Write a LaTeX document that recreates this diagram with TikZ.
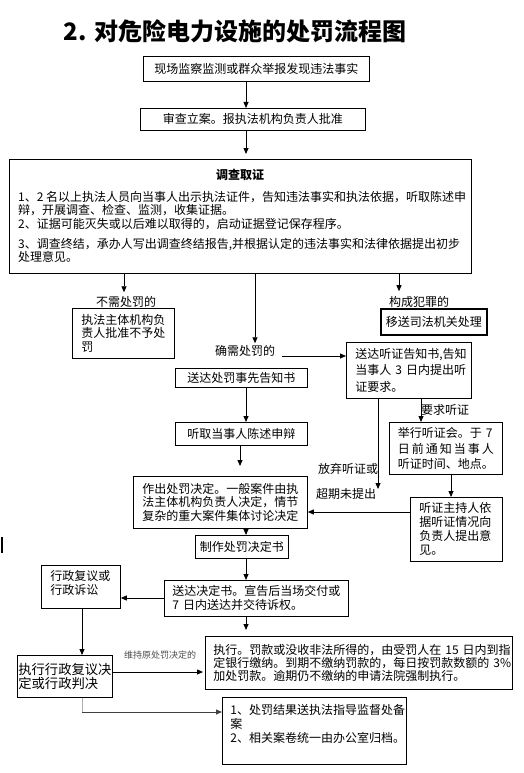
\documentclass[tikz,border=0pt]{standalone}
\usepackage{fontspec}
\newfontfamily\cjk{Noto Sans CJK SC}
\usetikzlibrary{arrows.meta}
\definecolor{lightline}{RGB}{160,175,190}
\begin{document}
\begin{tikzpicture}[x=1pt,y=-1pt,
  box/.style={draw, line width=0.8pt, inner sep=0pt, anchor=north west, font=\cjk\fontsize{12}{14}\selectfont},
  lbl/.style={inner sep=0pt, font=\cjk\fontsize{12}{14}\selectfont},
  arr/.style={line width=0.8pt, -{Triangle[length=6pt,width=5pt]}},
  ln/.style={line width=0.8pt}]
\fill[white] (0,0) rectangle (523,773);
\useasboundingbox (0,0) rectangle (523,773);
% helper coordinates
\coordinate (X246) at (246,0);
\coordinate (X240) at (240,0);
\coordinate (X124) at (124,0);
\coordinate (X255) at (255,0);
\coordinate (X399) at (399,0);
\coordinate (X421) at (421,0);
\coordinate (X378) at (378,0);
\coordinate (X451) at (451,0);
\coordinate (X82) at (82,0);
\coordinate (Y512) at (0,512);
\coordinate (Y598) at (0,598);
\coordinate (Y672) at (0,672);
% title
\node[inner sep=0pt, font=\cjk\bfseries\fontsize{24}{28}\selectfont] (title) at (235,31) {2. 对危险电力设施的处罚流程图};
% boxes
\node[box, minimum width=226, minimum height=25] (b1) at (143,56) {现场监察监测或群众举报发现违法事实};
\node[box, minimum width=225, minimum height=22] (b2) at (140,108) {审查立案。报执法机构负责人批准};
\node[box, minimum width=462, minimum height=114] (inv) at (9,159) {};
\node[lbl, font=\cjk\bfseries\fontsize{12}{14}\selectfont] (invH) at (240,175) {调查取证};
\node[lbl, anchor=north west, align=left, font=\cjk\fontsize{12}{13.5}\selectfont] (invT) at (18,191)
 {1、2~名以上执法人员向当事人出示执法证件，告知违法事实和执法依据，听取陈述申\\
  辩，开展调查、检查、监测，收集证据。\\
  2、证据可能灭失或以后难以取得的，启动证据登记保存程序。\\[6.5pt]
  3、调查终结，承办人写出调查终结报告,并根据认定的违法事实和法律依据提出初步\\
  处理意见。};
\node[lbl] (lblNo) at (126,302) {不需处罚的};
\node[box, minimum width=102, minimum height=50, align=left, text width=84, inner xsep=9, font=\cjk\fontsize{12}{13.5}\selectfont] (noPen) at (72,308) {执法主体机构负\\责人批准不予处\\罚};
\node[lbl] (lblCrime) at (419,302) {构成犯罪的};
\node[box, line width=1.7pt, minimum width=106, minimum height=26] (crime) at (380,308) {移送司法机关处理};
\node[lbl] (lblNeed) at (245,351) {确需处罚的};
\coordinate (needOut) at (282,356);
\node[box, minimum width=125, minimum height=56, align=left, text width=107, inner xsep=9, font=\cjk\fontsize{12}{16.5}\selectfont] (hearN) at (346,342) {送达听证告知书,告知\\\mbox{当事人~3~日内提出听}\\证要求。};
\node[box, minimum width=132, minimum height=19] (notice) at (175,368) {送达处罚事先告知书};
\node[box, minimum width=132, minimum height=23] (listen) at (175,422) {听取当事人陈述申辩};
\node[lbl] (lblReq) at (445,410) {要求听证};
\node[box, minimum width=113, minimum height=52, align=left, text width=96, inner xsep=8.5, font=\cjk\fontsize{12}{15.5}\selectfont] (hold) at (389,422) {\mbox{举行听证会。于~7}\\\makebox[96pt][s]{日\hfil 前\hfil 通\hfil 知\hfil 当\hfil 事\hfil 人}\\听证时间、地点。};
\node[lbl] (lblGive1) at (348,469) {放弃听证或};
\node[lbl] (lblGive2) at (346,494) {超期未提出};
\coordinate (giveEnd) at (378,489);
\node[box, minimum width=174, minimum height=52, align=left, text width=156, inner xsep=9, font=\cjk\fontsize{12}{13.5}\selectfont] (decide) at (133,476) {作出处罚决定。一般案件由执\\法主体机构负责人决定，情节\\复杂的重大案件集体讨论决定};
\node[box, minimum width=92, minimum height=64, align=left, text width=74, inner xsep=9, font=\cjk\fontsize{12}{14}\selectfont] (host) at (410,497) {听证主持人依\\据听证情况向\\负责人提出意\\见。};
\node[box, minimum width=93, minimum height=23] (make) at (195,535) {制作处罚决定书};
\node[box, minimum width=184, minimum height=36, align=left, text width=168, inner xsep=8, font=\cjk\fontsize{12}{14}\selectfont] (deliver) at (164,580) {送达决定书。宣告后当场交付或\\\mbox{7~日内送达并交待诉权。}};
\node[box, minimum width=79, minimum height=43, align=left, text width=61, inner xsep=9, font=\cjk\fontsize{12}{14}\selectfont] (review) at (41,565) {行政复议或\\行政诉讼\\[-5pt]\mbox{}};
\node[box, minimum width=95, minimum height=42, align=left, text width=93, inner xsep=1, font=\cjk\fontsize{13.3}{13.5}\selectfont] (execRev) at (17,655) {执行行政复议决\\定或行政判决};
\node[inner sep=0pt, text=black!70, font=\cjk\fontsize{9}{10}\selectfont] (lblKeep) at (160,655) {维持原处罚决定的};
\node[box, minimum width=307, minimum height=53, align=left, text width=291, inner xsep=8, font=\cjk\fontsize{12}{13}\selectfont] (execute) at (205,636) {\mbox{执行。罚款或没收非法所得的，由受罚人在~15~日内到指}\\\mbox{定银行缴纳。到期不缴纳罚款的，每日按罚款数额的~3\%}\\加处罚款。逾期仍不缴纳的申请法院强制执行。};
\node[box, minimum width=184, minimum height=67, align=left, text width=168, inner xsep=8, font=\cjk\fontsize{12}{14}\selectfont] (archive) at (222,697) {1、处罚结果送执法指导监督处备\\案\\2、相关案卷统一由办公室归档。\\\mbox{}};
\coordinate (corner) at (82,712);
% stray mark
\draw[line width=1.5pt] (2,537) -- (2,553);
% connectors
\draw[arr] (b1.south -| X246) -- (b2.north -| X246);
\draw[arr] (b2.south -| X246) -- ([yshift=5pt]inv.north -| X246);
\draw[arr] (inv.south -| X124) -- ([yshift=4pt]lblNo.north -| X124);
\draw[arr] (inv.south -| X255) -- ([yshift=2pt]lblNeed.north -| X255);
\draw[arr] (inv.south -| X399) -- ([yshift=5pt]lblCrime.north -| X399);
\draw[arr] (needOut) -- (needOut -| hearN.west);
\draw[arr] (notice.south -| X246) -- (listen.north -| X246);
\draw[arr] (listen.south -| X240) -- ([yshift=10pt]decide.north -| X240);
\draw[arr] (hearN.south -| X421) -- (hold.north -| X421);
\draw[arr] (hearN.south -| X378) -- (giveEnd);
\draw[arr] (hold.south -| X451) -- (host.north -| X451);
\draw[arr] (host.west |- Y512) -- (decide.east |- Y512);
\draw[arr] (decide.south -| X246) -- (make.north -| X246);
\draw[arr] (make.south -| X246) -- (deliver.north -| X246);
\draw[arr] (deliver.west |- Y598) -- (review.east |- Y598);
\draw[arr] (review.south -| X82) -- (execRev.north -| X82);
\draw[arr] (deliver.south -| X246) -- ([yshift=6pt]execute.north -| X246);
\draw[arr] (execRev.east |- Y672) -- ([xshift=-2pt]execute.west |- Y672);
\draw[line width=1pt, color=lightline] (execRev.south -| X82) -- (corner);
\draw[arr, color=black!75] (corner) -- (corner -| archive.west);
\end{tikzpicture}
\end{document}
